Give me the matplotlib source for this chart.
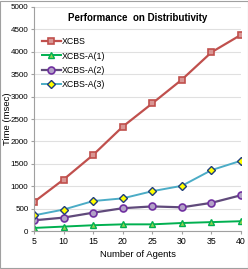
import numpy as np
import matplotlib.pyplot as plt

agents = [5, 10, 15, 20, 25, 30, 35, 40]
xcbs = [650, 1150, 1700, 2330, 2850, 3380, 3990, 4380]
xcbs_a1 = [70, 100, 130, 150, 150, 180, 200, 220]
xcbs_a2 = [240, 300, 410, 510, 550, 530, 630, 800]
xcbs_a3 = [350, 480, 670, 730, 890, 1010, 1360, 1570]

plt.rcParams['font.family'] = ['Liberation Sans', 'DejaVu Sans']

fig = plt.figure(figsize=(2.48, 2.69), dpi=100)
ax = fig.add_axes([0.137, 0.141, 0.835, 0.833])

ax.plot(agents, xcbs, '-s', color='#C0504D', lw=1.6, ms=5,
        mfc='#D99694', mec='#C0504D', mew=1.2, label='XCBS')
ax.plot(agents, xcbs_a1, '-^', color='#00B050', lw=1.4, ms=5,
        mfc='#92D050', mec='#00B050', mew=1, label='XCBS-A(1)')
ax.plot(agents, xcbs_a2, '-o', color='#604A7B', lw=1.6, ms=5,
        mfc='#B3A2C7', mec='#7030A0', mew=1.2, label='XCBS-A(2)')
ax.plot(agents, xcbs_a3, '-D', color='#4BACC6', lw=1.4, ms=4.5,
        mfc='#FFFF00', mec='#1F3D7A', mew=1, label='XCBS-A(3)')

ax.set_xlim(5, 40)
ax.set_ylim(0, 5000)
ax.set_xticks(agents)
ax.set_yticks(np.arange(0, 5001, 500))
ax.grid(axis='y', color='#E0E0E0', lw=0.8)
ax.set_axisbelow(True)
for s in ['top', 'right']:
    ax.spines[s].set_visible(False)
ax.spines['left'].set_color('#A0A0A0')
ax.spines['bottom'].set_color('#A0A0A0')
ax.tick_params(labelsize=5.8, length=2, color='#A0A0A0', pad=2)
ax.tick_params(axis='x', labelsize=6.3)
ax.set_xlabel('Number of Agents', fontsize=6.8, labelpad=3)
ax.set_ylabel('Time (msec)', fontsize=6.8)
ax.yaxis.set_label_coords(-0.105, 0.5)
ax.set_title('Performance  on Distributivity', fontsize=7, fontweight='bold',
             y=0.9)
ax.legend(loc='upper left', bbox_to_anchor=(0.0, 0.9), frameon=False,
          fontsize=6.3, handlelength=2.2, handletextpad=0.1, labelspacing=0.6)

fig.patches.append(plt.Rectangle((0.002, 0.002), 0.996, 0.996, transform=fig.transFigure,
                                 fill=False, ec='#A0A0A0', lw=0.8))
fig.savefig('out.png', dpi=100)
